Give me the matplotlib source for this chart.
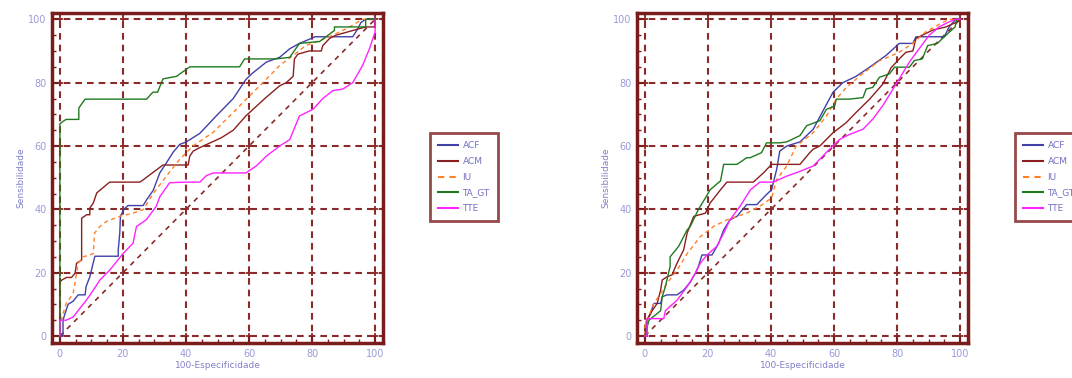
import matplotlib
matplotlib.use("Agg")
import matplotlib.pyplot as plt
from matplotlib.lines import Line2D

# ---- ROC curves: (100-Especificidade, Sensibilidade) ----
# Left panel
acf_l_x = [0, 1.0, 1.0, 1.6, 2.6, 4.2, 5.8, 8.0, 8.3, 9.5, 10.3, 11.1, 18.5, 18.5, 19.0, 19.2, 20.3, 21.6, 26.4, 27.5, 29.6, 31.7, 33.8, 35.9, 38.0, 40.1, 44.4, 49.6, 55.0, 59.0, 61.1, 65.5, 69.7, 72.9, 76.0, 81.0, 86.6, 92.9, 94.5, 95.5, 97.0, 100]
acf_l_y = [0, 0, 5.0, 7.0, 10.0, 11.0, 13.0, 13.0, 15.6, 18.7, 22.0, 25.2, 25.2, 27.0, 32.5, 37.8, 40.0, 41.2, 41.2, 43.0, 46.0, 51.5, 54.7, 58.0, 60.5, 61.3, 64.0, 69.5, 75.0, 81.0, 83.0, 86.5, 88.0, 90.7, 92.4, 94.5, 94.5, 94.5, 97.0, 99.0, 100, 100]

acm_l_x = [0, 0, 0.5, 2.1, 3.7, 4.8, 5.3, 6.9, 6.9, 6.9, 8.5, 9.5, 9.5, 10.6, 11.7, 15.8, 25.3, 26.0, 30.0, 32.7, 40.7, 41.2, 42.3, 44.4, 51.2, 55.0, 59.0, 65.0, 69.7, 71.8, 74.0, 74.4, 75.5, 79.0, 82.9, 83.4, 85.6, 87.6, 97.0, 100, 100]
acm_l_y = [0, 17.0, 17.6, 18.5, 18.5, 19.8, 23.0, 24.0, 33.0, 37.2, 38.3, 38.3, 40.4, 42.0, 45.2, 48.6, 48.6, 49.0, 52.0, 54.0, 54.0, 56.8, 58.4, 59.5, 62.6, 65.0, 69.5, 75.0, 79.0, 80.0, 82.0, 87.5, 89.0, 90.0, 90.0, 91.7, 94.0, 95.0, 97.6, 97.6, 100]

iu_l_x = [0, 0, 1.0, 2.0, 4.2, 5.3, 5.8, 7.4, 10.6, 11.0, 12.7, 14.8, 19.0, 23.2, 26.4, 29.6, 33.8, 38.0, 42.2, 48.6, 55.0, 60.2, 63.4, 69.7, 74.0, 78.0, 82.4, 86.6, 90.8, 96.0, 100]
iu_l_y = [0, 3.9, 7.0, 10.3, 13.4, 19.8, 23.0, 25.0, 26.0, 32.5, 34.6, 36.2, 37.8, 38.8, 39.9, 45.0, 50.5, 55.8, 60.0, 64.3, 70.6, 75.9, 79.0, 85.4, 88.6, 91.7, 93.3, 95.0, 97.0, 100, 100]

ta_l_x = [0, 0, 1.0, 2.0, 6.0, 6.0, 8.0, 27.5, 29.5, 31.0, 32.7, 37.0, 41.2, 57.0, 58.6, 68.6, 72.9, 76.0, 82.4, 87.1, 87.1, 97.0, 97.0, 100]
ta_l_y = [0, 67.0, 67.8, 68.4, 68.4, 72.0, 74.8, 74.8, 77.0, 77.0, 81.2, 82.0, 85.0, 85.0, 87.5, 87.5, 88.0, 92.4, 93.0, 96.5, 97.6, 97.6, 100, 100]

tte_l_x = [0, 0, 2.0, 4.2, 6.3, 8.4, 10.6, 12.7, 15.8, 20.0, 23.2, 24.3, 27.4, 30.6, 31.7, 34.8, 40.0, 44.4, 46.4, 48.6, 59.0, 62.3, 65.5, 69.7, 72.9, 76.0, 80.3, 83.4, 86.6, 89.8, 92.9, 96.0, 98.2, 100, 100]
tte_l_y = [0, 5.0, 5.0, 6.0, 8.7, 11.3, 14.5, 17.7, 20.8, 26.0, 29.3, 34.6, 36.7, 41.0, 44.0, 48.4, 48.6, 48.6, 50.6, 51.5, 51.5, 53.7, 56.8, 60.0, 62.0, 69.5, 71.6, 75.0, 77.5, 78.0, 80.0, 85.4, 90.7, 96.0, 100]

# Right panel
acf_r_x = [0, 0.7, 0.7, 1.8, 2.8, 5.0, 5.5, 7.0, 10.2, 12.3, 14.4, 16.0, 17.0, 18.1, 21.3, 23.4, 25.0, 27.0, 29.2, 32.3, 35.5, 38.6, 40.2, 41.8, 42.8, 45.0, 49.2, 53.4, 56.5, 59.7, 62.8, 67.0, 71.3, 76.5, 80.7, 85.0, 86.0, 95.0, 96.5, 98.6, 100]
acf_r_y = [0, 0, 5.0, 7.0, 10.3, 10.3, 12.4, 13.0, 13.0, 14.5, 17.0, 19.8, 22.0, 25.6, 25.6, 29.3, 33.5, 36.7, 37.8, 41.5, 41.5, 44.7, 46.2, 52.6, 58.4, 60.0, 61.3, 65.3, 71.1, 77.0, 80.0, 82.0, 84.9, 88.6, 92.4, 92.4, 94.5, 94.5, 97.6, 100, 100]

acm_r_x = [0, 0.5, 2.3, 3.9, 5.0, 5.5, 7.0, 8.6, 10.2, 12.3, 13.4, 15.5, 19.2, 20.7, 24.0, 26.0, 34.4, 37.6, 40.2, 45.0, 49.2, 52.3, 53.4, 55.5, 59.7, 63.9, 67.0, 71.3, 75.5, 78.1, 80.7, 82.8, 85.0, 86.0, 87.0, 91.3, 95.5, 98.6, 100]
acm_r_y = [0, 5.0, 8.0, 10.3, 14.5, 17.7, 18.7, 19.3, 23.0, 27.2, 32.5, 37.8, 38.8, 42.0, 46.2, 48.6, 48.6, 51.5, 54.2, 54.2, 54.2, 57.9, 59.0, 60.0, 64.2, 67.4, 70.6, 74.8, 79.6, 84.7, 87.5, 89.6, 90.0, 94.0, 94.5, 96.6, 97.6, 99.0, 100]

iu_r_x = [0, 0, 0.7, 2.8, 5.0, 7.0, 10.2, 13.4, 17.6, 21.8, 26.0, 32.3, 36.5, 40.2, 41.8, 45.0, 48.0, 53.4, 57.6, 60.7, 63.9, 68.0, 74.4, 80.7, 85.0, 89.0, 94.4, 96.5, 100]
iu_r_y = [0, 3.0, 5.0, 10.3, 13.4, 16.6, 20.8, 26.0, 31.4, 34.6, 36.7, 38.8, 41.0, 43.6, 49.4, 53.7, 60.0, 64.2, 69.5, 74.8, 78.5, 82.0, 86.9, 89.6, 92.4, 96.0, 99.0, 100, 100]

ta_r_x = [0, 0.5, 1.3, 5.0, 5.5, 6.5, 8.0, 8.0, 10.7, 13.4, 14.4, 17.0, 19.2, 20.7, 24.0, 25.0, 29.2, 32.3, 33.4, 37.0, 38.6, 42.8, 45.0, 49.2, 51.3, 55.5, 57.6, 60.2, 60.7, 64.9, 69.2, 70.2, 72.3, 74.4, 77.6, 79.2, 83.9, 85.5, 88.0, 89.7, 92.8, 95.5, 98.4, 98.9, 100]
ta_r_y = [0, 2.0, 5.0, 8.0, 12.4, 15.6, 22.0, 25.0, 28.3, 33.5, 34.6, 40.0, 43.6, 46.2, 49.0, 54.2, 54.2, 56.3, 56.3, 57.9, 61.0, 61.0, 61.3, 63.3, 66.4, 68.0, 71.6, 72.6, 74.8, 74.8, 75.3, 78.0, 78.5, 81.7, 82.8, 84.9, 84.9, 87.0, 87.5, 91.7, 92.4, 95.0, 97.6, 100, 100]

tte_r_x = [0, 0.7, 0.7, 6.0, 6.5, 10.2, 13.4, 16.0, 17.6, 19.7, 22.8, 25.0, 27.0, 30.2, 33.5, 36.5, 40.7, 45.0, 49.2, 53.4, 57.6, 61.8, 65.0, 69.2, 72.3, 75.5, 78.1, 80.7, 83.9, 87.0, 90.2, 93.3, 96.5, 98.6, 100]
tte_r_y = [0, 0, 5.5, 5.5, 8.0, 11.3, 15.6, 19.8, 23.0, 25.6, 28.3, 32.5, 36.7, 41.0, 46.2, 48.6, 48.6, 50.5, 52.0, 53.7, 58.0, 62.1, 63.7, 65.3, 68.5, 72.8, 77.0, 81.2, 86.5, 90.7, 95.0, 97.6, 99.2, 100, 100]

series_names = ["ACF", "ACM", "IU", "TA_GT", "TTE"]
ticks = [0, 20, 40, 60, 80, 100]
tick_labels = ["0", "20", "40", "60", "80", "100"]

# ---- styling ----
FRAME = "#7b1c1c"
GRID = "#8b2a2a"
TEXT = "#9a9ad8"
styles = {
    "ACF":   dict(color="#4040a8", ls="-", lw=1.0),
    "ACM":   dict(color="#8b1f1f", ls="-", lw=1.0),
    "IU":    dict(color="#ff7f27", ls=(0, (3, 2.5)), lw=1.0),
    "TA_GT": dict(color="#1f7a1f", ls="-", lw=1.0),
    "TTE":   dict(color="#ff22ff", ls="-", lw=1.0),
}

fig = plt.figure(figsize=(10.72, 3.78), dpi=100)
fig.patch.set_facecolor("white")


def draw_panel(ax, curves):
    ax.set_xlim(-2.5, 102.5)
    ax.set_ylim(-2.2, 102)
    # dashed grid with crosses at the intersections
    for v in ticks:
        ax.axhline(v, color=GRID, lw=1.5, ls=(0, (3.2, 2.4)), zorder=1)
        ax.axvline(v, color=GRID, lw=1.5, ls=(0, (3.2, 2.4)), zorder=1)
    gx = [x for x in ticks for _ in ticks]
    gy = [y for _ in ticks for y in ticks]
    ax.plot(gx, gy, ls="none", marker="+", ms=5, mew=1.3, color=GRID, zorder=1)
    # chance diagonal
    ax.plot([0, 100], [0, 100], color=GRID, lw=1.2, ls=(0, (3, 3)), zorder=2)
    for name, (xs, ys) in zip(series_names, curves):
        st = styles[name]
        ax.plot(xs, ys, color=st["color"], ls=st["ls"], lw=st["lw"], zorder=3)
    ax.set_xticks(ticks)
    ax.set_yticks(ticks)
    ax.set_xticklabels(tick_labels)
    ax.set_yticklabels(tick_labels)
    ax.set_xticks(range(0, 101, 5), minor=True)
    ax.set_yticks(range(0, 101, 5), minor=True)
    ax.tick_params(which="both", direction="in", colors=FRAME, labelcolor=TEXT,
                   labelsize=7, top=False, right=False)
    ax.tick_params(which="major", length=5, width=1.5, pad=4)
    ax.tick_params(which="minor", length=3, width=1.0)
    for s in ax.spines.values():
        s.set_color(FRAME)
        s.set_linewidth(2.5)
    ax.set_xlabel("100-Especificidade", color="#8080c8", fontsize=6.5, labelpad=2)
    ax.set_ylabel("Sensibilidade", color="#8080c8", fontsize=6.5, labelpad=2)


def add_legend(x0, y1):
    handles = [Line2D([0], [0], color=styles[n]["color"], ls=styles[n]["ls"], lw=1.5)
               for n in series_names]
    leg = fig.legend(handles, series_names, loc="upper left",
                     bbox_to_anchor=(x0, y1), bbox_transform=fig.transFigure,
                     fontsize=6.5, frameon=True, fancybox=False,
                     handlelength=2.2, handletextpad=0.5, labelspacing=0.75,
                     borderpad=0.9, borderaxespad=0)
    leg.get_frame().set_edgecolor(FRAME)
    leg.get_frame().set_linewidth(2)
    for t in leg.get_texts():
        t.set_color("#7070c0")


ax1 = fig.add_axes([52 / 1072, 1 - 343 / 378, 331 / 1072, 330 / 378])
draw_panel(ax1, [(acf_l_x, acf_l_y), (acm_l_x, acm_l_y), (iu_l_x, iu_l_y),
                 (ta_l_x, ta_l_y), (tte_l_x, tte_l_y)])
ax2 = fig.add_axes([637 / 1072, 1 - 343 / 378, 331 / 1072, 330 / 378])
draw_panel(ax2, [(acf_r_x, acf_r_y), (acm_r_x, acm_r_y), (iu_r_x, iu_r_y),
                 (ta_r_x, ta_r_y), (tte_r_x, tte_r_y)])

add_legend(430 / 1072, 1 - 133 / 378)
add_legend(1015 / 1072, 1 - 133 / 378)

fig.savefig("out.png", dpi=100, facecolor="white")
